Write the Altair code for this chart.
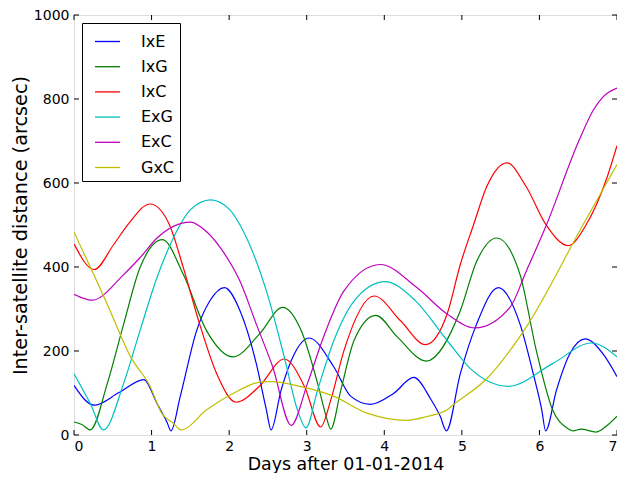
import altair as alt
import pandas as pd

series_names = ["IxE", "IxG", "IxC", "ExG", "ExC", "GxC"]
series_colors = ["#0000ff", "#008000", "#ff0000", "#00bfbf", "#bf00bf", "#bfbf00"]

x_ticks = [0, 1, 2, 3, 4, 5, 6, 7]
y_ticks = [0, 200, 400, 600, 800, 1000]

ixe_day = [0, 0.26, 0.58, 0.9, 1.07, 1.2, 1.25, 1.37, 1.58, 1.75, 1.94, 2.14, 2.35, 2.48, 2.54,
           2.67, 2.84, 3.03, 3.35, 3.57, 3.82, 4.12, 4.38, 4.6, 4.72, 4.8, 4.98, 5.19, 5.47,
           5.75, 5.92, 6.03, 6.08, 6.22, 6.39, 6.59, 6.82, 7.0]
ixe_val = [118, 71, 101, 132, 75, 30, 10, 92, 248, 319, 351, 296, 170, 60, 12,
           107, 193, 231, 162, 92, 73, 99, 137, 85, 45, 10, 146, 264, 351,
           264, 146, 60, 10, 107, 193, 229, 193, 139]

ixg_day = [0, 0.1, 0.21, 0.43, 0.64, 0.85, 1.14, 1.41, 1.71, 2.05, 2.39, 2.69, 2.93, 3.14, 3.25,
           3.31, 3.44, 3.61, 3.89, 4.17, 4.54, 4.98, 5.19, 5.45, 5.75, 5.96, 6.17, 6.35, 6.43,
           6.54, 6.73, 6.88, 7.0]
ixg_val = [31, 25, 12, 123, 264, 398, 465, 382, 248, 186, 240, 304, 248, 123, 45,
           14, 107, 225, 285, 233, 176, 296, 413, 469, 382, 201, 60, 17, 10,
           14, 7, 24, 45]

ixc_day = [0, 0.26, 0.51, 0.7, 0.98, 1.22, 1.41, 1.62, 1.84, 2.09, 2.39, 2.71, 2.97, 3.18, 3.31,
           3.48, 3.87, 4.21, 4.53, 4.81, 4.98, 5.15, 5.32, 5.58, 5.83, 6.08, 6.37, 6.6, 6.86, 7.0]
ixc_val = [455, 394, 453, 502, 550, 505, 398, 264, 146, 78, 116, 181, 116, 19, 83,
           201, 331, 272, 215, 288, 406, 500, 591, 648, 591, 502, 451, 500, 607, 689]

exg_day = [0, 0.21, 0.38, 0.64, 0.85, 1.07, 1.28, 1.5, 1.76, 2.01, 2.14, 2.48, 2.71, 2.88, 2.99,
           3.14, 3.35, 3.61, 4.01, 4.4, 4.81, 5.11, 5.6, 6.17, 6.67, 7.0]
exg_val = [146, 75, 12, 123, 248, 375, 469, 536, 560, 536, 500, 343, 186, 60, 17,
           107, 225, 319, 365, 320, 225, 158, 116, 170, 219, 186]

exc_day = [0, 0.23, 0.64, 0.85, 1.07, 1.5, 1.71, 1.92, 2.14, 2.35, 2.56, 2.8, 3.01, 3.23, 3.48,
           3.95, 4.42, 4.81, 5.17, 5.62, 5.83, 6.09, 6.51, 6.69, 6.82, 7.0]
exc_val = [335, 321, 382, 422, 469, 507, 484, 437, 366, 264, 163, 23, 123, 240, 343,
           406, 351, 288, 255, 304, 390, 500, 701, 772, 805, 826]

gxc_day = [0, 0.43, 0.73, 0.98, 1.13, 1.28, 1.38, 1.71, 2.05, 2.46, 2.55, 2.93, 3.35, 3.78, 4.29,
           4.55, 4.81, 4.89, 5.32, 5.83, 6.56, 7.0]
gxc_val = [483, 311, 186, 116, 52, 28, 12, 60, 99, 127, 127, 115, 92, 52, 35,
           44, 60, 72, 134, 257, 500, 644]

days = [ixe_day, ixg_day, ixc_day, exg_day, exc_day, gxc_day]
vals = [ixe_val, ixg_val, ixc_val, exg_val, exc_val, gxc_val]

rows = []
for name, d, v in zip(series_names, days, vals):
    for di, vi in zip(d, v):
        rows.append({"series": name, "day": di, "value": vi})
df = pd.DataFrame(rows)

W, H = 543, 420
FONT = "DejaVu Sans"

xscale = alt.Scale(domain=[0, 7], nice=False, zero=False)
yscale = alt.Scale(domain=[0, 1000], nice=False)

lines = alt.Chart(df).mark_line(interpolate="monotone", strokeWidth=1.2, clip=True).encode(
    x=alt.X("day:Q", scale=xscale,
            axis=alt.Axis(title="Days after 01-01-2014", values=x_ticks, format="d",
                          grid=False, domain=False, ticks=False, labelPadding=4,
                          labelFontSize=14, titleFontSize=17.4, titleFont=FONT, labelFont=FONT,
                          labelColor="black", titleColor="black", titleFontWeight="normal",
                          titlePadding=2)),
    y=alt.Y("value:Q", scale=yscale,
            axis=alt.Axis(title="Inter-satellite distance (arcsec)", values=y_ticks, format="d",
                          grid=False, domain=False, ticks=False, labelPadding=5,
                          labelFontSize=14, titleFontSize=19.3, titleFont=FONT, labelFont=FONT,
                          labelColor="black", titleColor="black", titleFontWeight="normal",
                          titlePadding=3)),
    color=alt.Color("series:N",
                    scale=alt.Scale(domain=series_names, range=series_colors),
                    sort=series_names,
                    legend=alt.Legend(title=None, orient="top-left", offset=8,
                                      strokeColor="black", fillColor="white", padding=5,
                                      symbolType="stroke", symbolSize=625, symbolStrokeWidth=1.3,
                                      symbolOffset=7,
                                      labelFontSize=16, labelFont=FONT, labelColor="black",
                                      labelOffset=20, rowPadding=3.2, cornerRadius=0)),
    detail="series:N",
    order="day:Q",
)

xt = pd.DataFrame({"t": x_ticks})
yt = pd.DataFrame({"t": y_ticks})
TL = 5
tick_bottom = alt.Chart(xt).mark_rule(color="black", strokeWidth=1).encode(
    x=alt.X("t:Q", scale=xscale), y=alt.value(H), y2=alt.value(H - TL))
tick_top = alt.Chart(xt).mark_rule(color="black", strokeWidth=1).encode(
    x=alt.X("t:Q", scale=xscale), y=alt.value(0), y2=alt.value(TL))
tick_left = alt.Chart(yt).mark_rule(color="black", strokeWidth=1).encode(
    y=alt.Y("t:Q", scale=yscale), x=alt.value(0), x2=alt.value(TL))
tick_right = alt.Chart(yt).mark_rule(color="black", strokeWidth=1).encode(
    y=alt.Y("t:Q", scale=yscale), x=alt.value(W), x2=alt.value(W - TL))

chart = alt.layer(lines, tick_bottom, tick_top, tick_left, tick_right).properties(
    width=W, height=H,
    autosize=alt.AutoSizeParams(type="none"),
    padding={"left": 66, "top": 7, "right": 0, "bottom": 38},
).configure_view(stroke="black", strokeWidth=1.2).configure(background="white")

chart.save("out.html", embed_options={"renderer": "svg", "actions": False})
